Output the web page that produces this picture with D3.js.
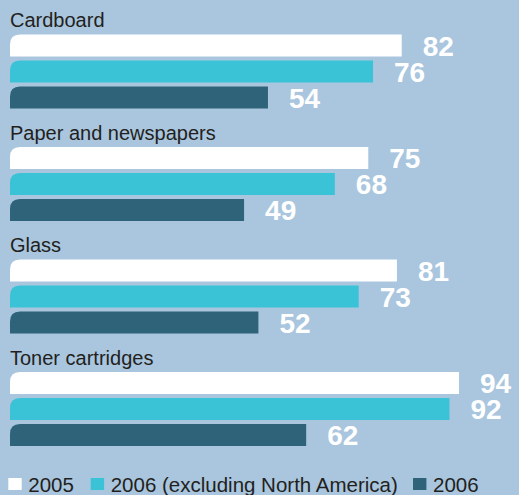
<!DOCTYPE html>
<html>
<head>
<meta charset="utf-8">
<script src="https://cdn.jsdelivr.net/npm/d3@7"></script>
<style>
  html, body { margin: 0; padding: 0; background: #a9c6de; }
  svg { display: block; }
</style>
</head>
<body>
<svg id="chart"></svg>
<script>
// data
const categories = ['Cardboard', 'Paper and newspapers', 'Glass', 'Toner cartridges'];
const seriesNames = ['2005', '2006 (excluding North America)', '2006'];
const values2005 = [82, 75, 81, 94];
const values2006ExNA = [76, 68, 73, 92];
const values2006 = [54, 49, 52, 62];

const colors = ['#ffffff', '#3ac3d6', '#2e6379'];

const width = 519;
const height = 495;

const svg = d3.select('#chart')
  .attr('width', width)
  .attr('height', height);

svg.append('rect')
  .attr('width', width)
  .attr('height', height)
  .attr('fill', '#a9c6de');

const x = d3.scaleLinear()
  .domain([0, 100])
  .range([10, 487.7]);

// one band per category, then one band per series inside it
const yGroup = d3.scaleBand()
  .domain(categories)
  .range([34.5, 34.5 + 4 * 112.5]);

const ySeries = d3.scaleBand()
  .domain(seriesNames)
  .range([0, 74])
  .paddingInner(4 / 26);

const allSeries = [values2005, values2006ExNA, values2006];

// bar with only the top-left corner rounded
function barPath(x0, y0, w, h, r) {
  return `M${x0},${y0 + h}V${y0 + r}Q${x0},${y0} ${x0 + r},${y0}H${x0 + w}V${y0 + h}Z`;
}

const groups = svg.selectAll('.group')
  .data(categories)
  .enter()
  .append('g')
  .attr('class', 'group')
  .attr('transform', d => `translate(0,${yGroup(d)})`);

groups.append('text')
  .attr('x', 10)
  .attr('y', -7.5)
  .attr('fill', '#231f20')
  .style('font-family', '"Liberation Sans", Arial, sans-serif')
  .style('font-size', '20px')
  .text(d => d);

groups.each(function(cat, ci) {
  const g = d3.select(this);
  seriesNames.forEach((s, si) => {
    const v = allSeries[si][ci];
    const y0 = ySeries(s);
    const bh = ySeries.bandwidth();
    g.append('path')
      .attr('d', barPath(x(0), y0, x(v) - x(0), bh, 10))
      .attr('fill', colors[si]);
    g.append('text')
      .attr('x', x(v) + 21)
      .attr('y', y0 + bh - 1)
      .attr('fill', '#ffffff')
      .style('font-family', '"Liberation Sans", Arial, sans-serif')
      .style('font-size', '28px')
      .style('font-weight', 'bold')
      .text(v);
  });
});

// legend
const legendX = [8.3, 90.7, 413];
const legend = svg.append('g');
seriesNames.forEach((s, i) => {
  legend.append('rect')
    .attr('x', legendX[i])
    .attr('y', 478)
    .attr('width', 13.4)
    .attr('height', 12)
    .attr('fill', colors[i]);
  legend.append('text')
    .attr('x', legendX[i] + 20)
    .attr('y', 491.5)
    .attr('fill', '#231f20')
    .style('font-family', '"Liberation Sans", Arial, sans-serif')
    .style('font-size', '20.5px')
    .text(s);
});
</script>
</body>
</html>
